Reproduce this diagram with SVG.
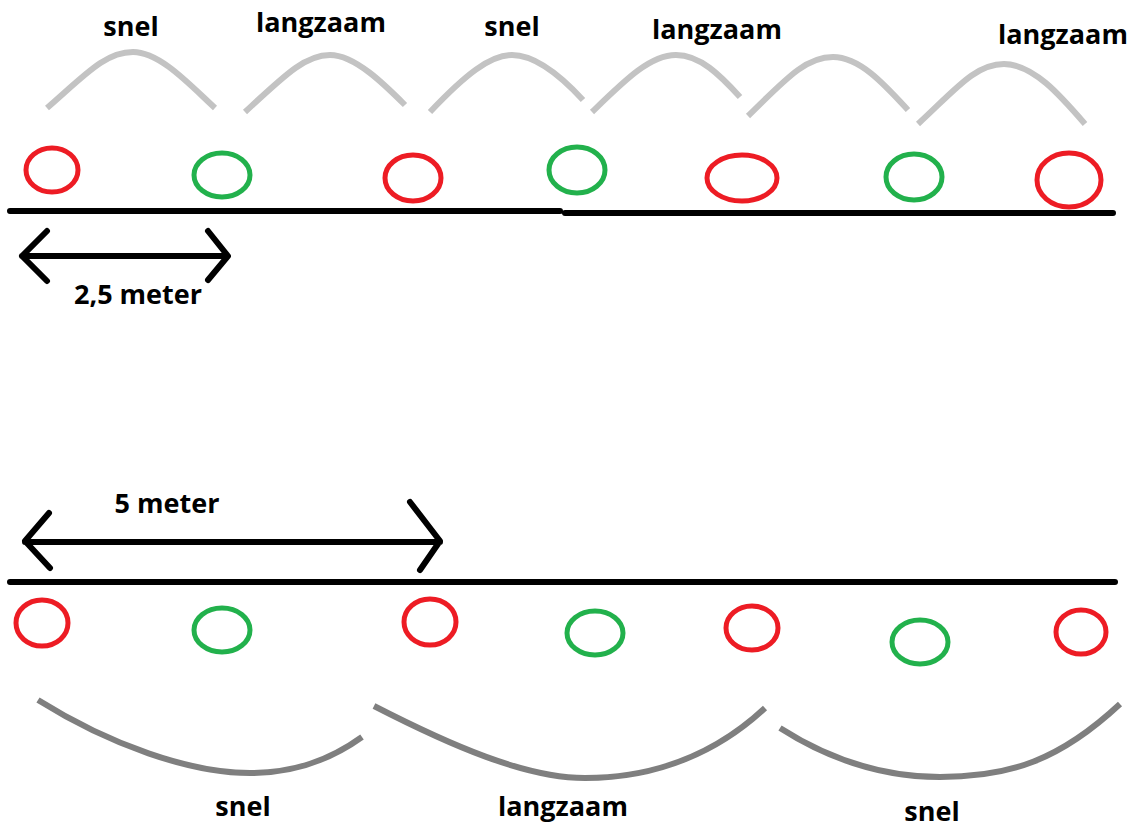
<svg xmlns="http://www.w3.org/2000/svg" width="1136" height="829" viewBox="0 0 1136 829">
<style>
.bg{fill:#fff}
.red{fill:none;stroke:#ed1c24;stroke-width:5}
.green{fill:none;stroke:#22b14c;stroke-width:5}
.arcT{fill:none;stroke:#c3c3c3;stroke-width:6;stroke-linecap:butt}
.arcB{fill:none;stroke:#7f7f7f;stroke-width:6;stroke-linecap:butt}
.blk{fill:none;stroke:#000;stroke-width:6;stroke-linecap:round;stroke-linejoin:round}
.t{font-family:"Open Sans","Noto Sans","Liberation Sans",sans-serif;font-weight:bold;font-size:27px;fill:#000;text-anchor:middle}
</style>
<rect class="bg" x="0" y="0" width="1136" height="829"/>
<g id="connectors">
<path class="blk" d="M10,211 L560,211 M565,213 L1113,213"/>
<path class="blk" d="M22,256 L225,256 M47,231 L22,256 L47,281 M208,231 L228,256 L208,280"/>
<path class="blk" d="M10,582 L1115,582"/>
<path class="blk" d="M25,542 L440,542 M49,513 L25,541 L50,568 M410,502 L440,541 L420,570"/>
<g id="arcs-top">
<path class="arcT" d="M47,108 C85,75 105,52 133,52 C160,52 190,85 215,108"/>
<path class="arcT" d="M245,112 C285,75 305,55 330,55 C355,55 385,85 405,105"/>
<path class="arcT" d="M430,112 C465,75 490,55 512,55 C535,55 560,75 583,100"/>
<path class="arcT" d="M592,112 C625,80 650,55 676,55 C700,55 720,75 740,97"/>
<path class="arcT" d="M748,116 C785,80 805,57 833,57 C860,57 885,85 908,110"/>
<path class="arcT" d="M918,124 C955,90 975,64 1004,64 C1033,64 1060,95 1085,124"/>
</g>
<g id="arcs-bottom">
<path class="arcB" d="M38,700 C110,745 190,773 250,773 C295,773 330,760 362,737"/>
<path class="arcB" d="M374,706 C450,745 525,778 585,778 C660,778 720,750 765,708"/>
<path class="arcB" d="M780,728 C830,760 885,777 940,777 C1010,777 1060,760 1120,704"/>
</g>
</g>
<g id="top-circles">
<ellipse id="t1" class="red" cx="52" cy="170" rx="26" ry="22"/>
<ellipse id="t2" class="green" cx="222" cy="175" rx="28" ry="22"/>
<ellipse id="t3" class="red" cx="413" cy="178" rx="28" ry="23"/>
<ellipse id="t4" class="green" cx="577" cy="170" rx="28" ry="23"/>
<ellipse id="t5" class="red" cx="742" cy="178" rx="35" ry="23"/>
<ellipse id="t6" class="green" cx="914" cy="177" rx="28" ry="23"/>
<ellipse id="t7" class="red" cx="1069" cy="180" rx="32" ry="27"/>
</g>
<g id="bottom-circles">
<ellipse id="b1" class="red" cx="42" cy="623" rx="26" ry="23"/>
<ellipse id="b2" class="green" cx="222" cy="630" rx="28" ry="22"/>
<ellipse id="b3" class="red" cx="430" cy="622" rx="26" ry="23"/>
<ellipse id="b4" class="green" cx="595" cy="633" rx="28" ry="22"/>
<ellipse id="b5" class="red" cx="752" cy="628" rx="26" ry="22"/>
<ellipse id="b6" class="green" cx="920" cy="642" rx="28" ry="22"/>
<ellipse id="b7" class="red" cx="1081" cy="632" rx="25" ry="22"/>
</g>
<g id="labels">
<text class="t" x="131" y="36">snel</text>
<text class="t" x="321" y="32">langzaam</text>
<text class="t" x="512" y="36">snel</text>
<text class="t" x="717" y="39">langzaam</text>
<text class="t" x="1063" y="44">langzaam</text>
<text class="t" x="138" y="304">2,5 meter</text>
<text class="t" x="167" y="513">5 meter</text>
<text class="t" x="243" y="816">snel</text>
<text class="t" x="563" y="816">langzaam</text>
<text class="t" x="932" y="821">snel</text>
</g>
</svg>
